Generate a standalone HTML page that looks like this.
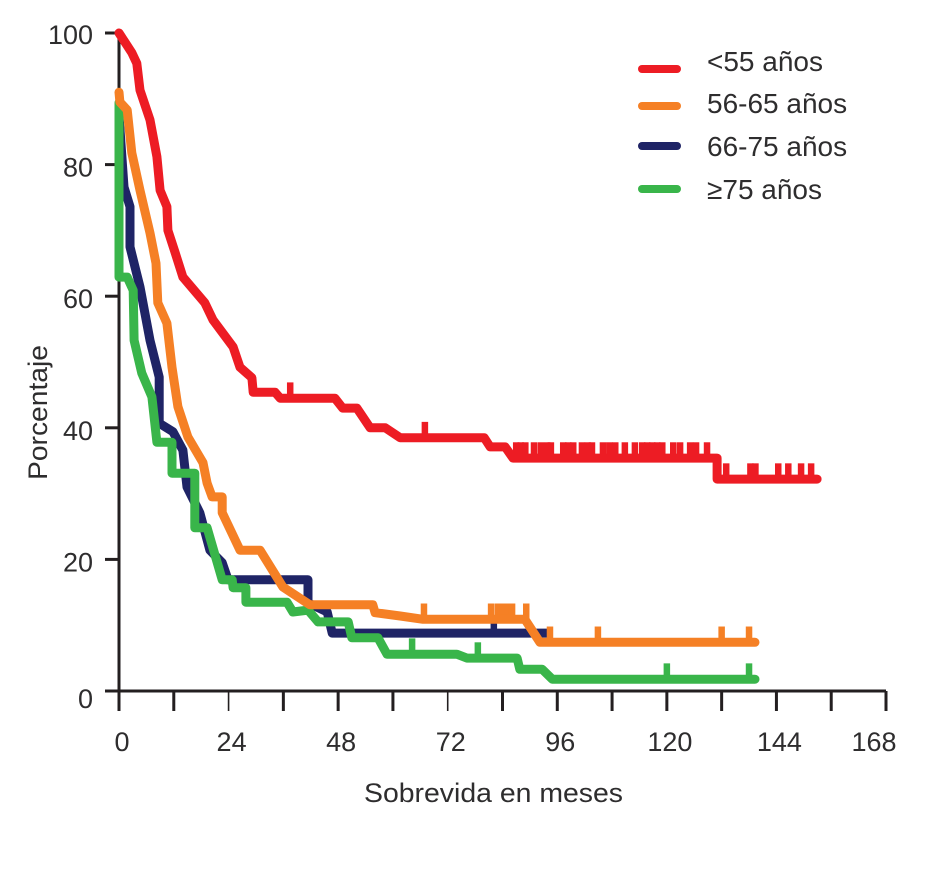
<!DOCTYPE html>
<html lang="es">
<head>
<meta charset="utf-8">
<title>Sobrevida por grupo de edad</title>
<style>
html,body{margin:0;padding:0;background:#fff;}
svg{display:block;}
text{font-family:"Liberation Sans",sans-serif;fill:#2e2d2e;font-size:27px;}
</style>
</head>
<body>
<svg id="chart" width="941" height="887" viewBox="0 0 941 887" xmlns="http://www.w3.org/2000/svg"></svg>
<script>
const xTickValues = [0,12,24,36,48,60,72,84,96,108,120,132,144,156,168];
const xTickLabels = [0,24,48,72,96,120,144,168];
const yTickLabels = [0,20,40,60,80,100];

const redTimes = [0,2.8,3.9,4.6,6.8,8.3,9,10.5,10.7,12.3,14,18.8,20.6,25,26.5,29.1,29.4,34.2,35.3,47.3,49,52.1,55,58.3,61.6,80,81.3,84.6,86.3,131,131,152.9];
const redValues = [100,97,95.4,91.3,86.8,81.2,76.1,73.6,70,66.6,62.9,59,56.4,52.3,49.2,47.6,45.4,45.4,44.5,44.5,43,43,40,40,38.5,38.5,37.1,37.1,35.4,35.4,32.2,32.2];
const redCensored = [37.5,67,87,88,89,90.9,92.4,93.8,94.6,97.3,98.4,99.5,101.4,102.7,103.6,106,107.4,108.7,110.8,113,114.6,115.7,116.8,117.9,119,121.4,122.9,125.1,126.4,128.8,133,138.3,139.4,144.4,146.6,149.4,151.6];

const orangeTimes = [0,0.2,1.8,2.8,4.6,6.8,8.1,8.5,10.5,11.6,12.9,15.1,18.4,19.3,20.4,22.6,22.6,26.5,30.9,35.9,41.8,55.6,56.1,61.6,66.6,88.9,92.2,139.3];
const orangeValues = [91,89.5,88.3,81.8,76.1,69.6,65,59,55.9,49.2,43.2,38.6,34.7,31.6,29.5,29.5,27.1,21.4,21.4,15.8,13.1,13.1,11.9,11.4,10.9,10.9,7.4,7.4];
const orangeCensored = [66.8,81.5,83,84.1,85.2,86.1,89.2,94.4,104.9,132,138];

const navyTimes = [0,1.1,2.4,2.4,4.6,6.8,8.8,8.8,11.8,14,14.9,17.7,19.9,22.6,23.9,41.4,41.4,45.6,46.7,93.8];
const navyValues = [87.5,76.6,73.6,67.5,61.4,53.3,47.7,40.7,39.4,36.6,31,27.1,21.4,19.5,16.9,16.9,13.4,12,8.8,8.8];
const navyCensored = [82.1];

const greenTimes = [0,0,1.8,3.1,3.3,5,7.2,8.3,11.6,11.6,16.6,16.6,19.3,22.6,24.8,25,27.8,27.8,36.8,38.1,41.4,43.6,50.2,51,56.7,58.7,74,76.2,87.2,87.8,92.7,94.9,139.3];
const greenValues = [89.4,62.9,62.9,60.9,53.3,48.3,44.7,37.8,37.8,33.1,33.1,24.8,24.8,16.9,16.9,15.7,15.7,13.5,13.5,12,12.3,10.5,10.5,8.1,8.1,5.6,5.6,5,5,3.3,3.3,1.8,1.8];
const greenCensored = [64.2,78.6,120,138];

const censorHeight = 2.4;

const svg = document.getElementById('chart');
const NS = 'http://www.w3.org/2000/svg';

function xScale(t){ return 119 + t * 767 / 168; }
function yScale(v){ return 691 - v * 6.58; }

function make(tag){
  const el = document.createElementNS(NS, tag);
  svg.appendChild(el);
  return el;
}
function segment(x1,y1,x2,y2,color,width){
  const el = make('line');
  el.setAttribute('x1', x1);
  el.setAttribute('y1', y1);
  el.setAttribute('x2', x2);
  el.setAttribute('y2', y2);
  el.setAttribute('stroke', color);
  el.setAttribute('stroke-width', width);
  return el;
}
function label(x,y,str,anchor){
  const el = make('text');
  el.setAttribute('x', x);
  el.setAttribute('y', y);
  el.setAttribute('text-anchor', anchor);
  el.textContent = str;
  return el;
}

const AXIS = '#231f20';
const yAxis = segment(xScale(0), 33, xScale(0), 711, AXIS, 3);


const xAxis = segment(105, yScale(0), xScale(168), yScale(0), AXIS, 3);



xTickValues.forEach(function(t){
  const thin = (t === 24 || t === 72);
  const tick = segment(xScale(t), yScale(0), xScale(t), 711, AXIS, thin ? 1.6 : 3);
  
  
});
xTickLabels.forEach(function(t){
  const nudge = t === 168 ? -12 : 3;
  const txt = label(xScale(t) + nudge, 751, String(t), 'middle');
  
  
});
yTickLabels.forEach(function(v){
  const tick = segment(105, yScale(v), xScale(0), yScale(v), AXIS, 3);
  
  
  const nudge = v === 0 ? 17 : (v === 100 ? 11 : 12);
  const txt = label(93, yScale(v) + nudge, String(v), 'end');
  
  
});

function drawSeries(name, times, values, censored, color){
  const points = times.map(function(t,i){ return xScale(t).toFixed(1) + ',' + yScale(values[i]).toFixed(1); }).join(' ');
  censored.forEach(function(t){
    let base = values[0];
    for (let i = 0; i < times.length; i++) { if (times[i] <= t) base = values[i]; }
    const mark = segment(xScale(t), yScale(base), xScale(t), yScale(base + censorHeight), color, 6.5);
    
    
  });
  const line = make('polyline');
  line.setAttribute('points', points);
  line.setAttribute('fill', 'none');
  line.setAttribute('stroke', color);
  line.setAttribute('stroke-width', 9);
  line.setAttribute('stroke-linejoin', 'round');
  line.setAttribute('stroke-linecap', 'round');
  
  
}

drawSeries('under-55', redTimes, redValues, redCensored, '#ed1c24');
drawSeries('age-66-75', navyTimes, navyValues, navyCensored, '#1f2466');
drawSeries('age-over-75', greenTimes, greenValues, greenCensored, '#39b54a');
drawSeries('age-56-65', orangeTimes, orangeValues, orangeCensored, '#f58025');

const xTitle = label(364, 802, 'Sobrevida en meses', 'start');
xTitle.setAttribute('textLength', '259');
xTitle.setAttribute('lengthAdjust', 'spacingAndGlyphs');



const yTitle = label(0, 0, 'Porcentaje', 'start');
yTitle.setAttribute('transform', 'translate(47,480) rotate(-90)');
yTitle.setAttribute('textLength', '135');
yTitle.setAttribute('lengthAdjust', 'spacingAndGlyphs');



const legendNames = ['<55 años','56-65 años','66-75 años','≥75 años'];
const legendColors = ['#ed1c24','#f58025','#1f2466','#39b54a'];
const legendRowsY = [69,106,146,189];
const legendBaselines = [71,113,156,199];
legendNames.forEach(function(n,i){
  const swatch = segment(642, legendRowsY[i], 677, legendRowsY[i], legendColors[i], 8);
  swatch.setAttribute('stroke-linecap', 'round');
  
  
  const txt = label(707, legendBaselines[i], n, 'start');
  txt.style.fontSize = '28px';
  
  
});
</script>
</body>
</html>
